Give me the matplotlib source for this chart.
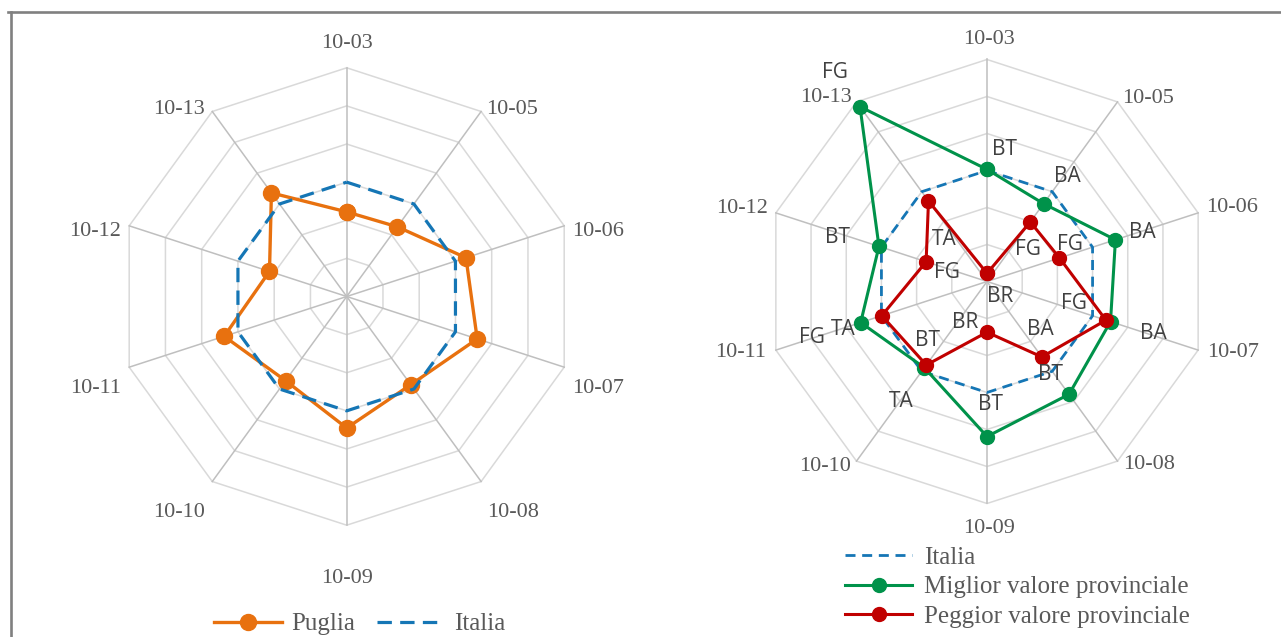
import numpy as np
import matplotlib.pyplot as plt
from matplotlib.lines import Line2D

# Indicators (spokes, clockwise from the top)
indicators = ['10-03', '10-05', '10-06', '10-07', '10-08',
              '10-09', '10-10', '10-11', '10-12', '10-13']

# Left chart: Puglia vs Italia (Italia = 100)
italia = [100, 100, 100, 100, 100, 100, 100, 100, 100, 100]
puglia = [84.4, 85.2, 105.8, 112.0, 97.2, 109.0, 94.6, 107.6, 82.6, 107.2]

# Right chart: best / worst province
migliore = [100.6, 92.0, 113.0, 110.2, 115.4, 123.8, 97.6, 111.8, 101.4, 156.8]
migliore_prov = ['BT', 'BA', 'BA', 'BA', 'BT', 'BT', 'TA', 'TA', 'BT', 'FG']
peggiore = [44.4, 79.8, 81.2, 107.6, 90.4, 67.4, 95.8, 99.8, 74.6, 93.8]
peggiore_prov = ['BR', 'FG', 'FG', 'FG', 'BA', 'BR', 'BT', 'FG', 'FG', 'TA']

r_min, r_max, r_step = 40, 160, 20

# label offsets in pixels (dx, dy with y pointing down)
left_lab_off = [(0, -24), (31, -2), (34, 6), (34, 21), (32, 31),
                (0, 53), (-33, 31), (-34, 21), (-34, 6), (-33, -2)]
right_lab_off = [(2, -20), (31, -3), (34, -5), (35, 2), (32, 3),
                 (2, 25), (-31, 5), (-35, 2), (-34, -4), (-31, -4)]
migliore_off = [(18, -20), (24, -27), (27, -7), (43, 12), (-18, -20),
                (3, -32), (-23, 34), (-17, 7), (-41, -9), (-25, -34)]
peggiore_off = [(13, 23), (-2, 28), (10, -13), (-32, -17), (-1, -27),
                (-22, -10), (1, -25), (-70, 22), (21, 11), (16, 39)]

c_orange = '#E8710F'
c_blue = '#1576B5'
c_green = '#00924A'
c_red = '#C00000'
grid_col = '#D9D9D9'
spoke_col = '#BFBFBF'
txt_col = '#595959'

W, H = 1281, 637
fig = plt.figure(figsize=(W / 100, H / 100), dpi=100)
fig.patch.set_facecolor('white')

n = len(indicators)
theta = np.arange(n) * 2 * np.pi / n


def to_xy(vals):
    r = np.array(vals, dtype=float) - r_min
    x = r * np.sin(theta)
    y = r * np.cos(theta)
    return np.append(x, x[0]), np.append(y, y[0])


def radar_axes(cx, cy, radius, box):
    x0, y0, x1, y1 = box
    ax = fig.add_axes([x0 / W, 1 - y1 / H, (x1 - x0) / W, (y1 - y0) / H])
    s = radius / (r_max - r_min)
    ax.set_xlim((x0 - cx) / s, (x1 - cx) / s)
    ax.set_ylim((cy - y1) / s, (cy - y0) / s)
    ax.axis('off')
    # rings
    for v in range(r_min + r_step, r_max + 1, r_step):
        gx, gy = to_xy([v] * n)
        ax.plot(gx, gy, color=grid_col, lw=1.1, zorder=1, clip_on=False)
    # spokes
    R = r_max - r_min
    for t in theta:
        ax.plot([0, R * np.sin(t)], [0, R * np.cos(t)], color=spoke_col,
                lw=1.1, zorder=1, clip_on=False)
    return ax


def axis_labels(ax, offsets):
    R = r_max - r_min
    for t, lab, (dx, dy) in zip(theta, indicators, offsets):
        ax.annotate(lab, (R * np.sin(t), R * np.cos(t)), xytext=(dx, -dy),
                    textcoords='offset pixels', ha='center', va='center',
                    fontsize=16, color=txt_col, family='Liberation Serif')


# ---------------- left chart ----------------
axl = radar_axes(346.7, 296.5, 228.7, (0, 0, 660, 637))
px, py = to_xy(puglia)
axl.plot(px, py, color=c_orange, lw=2.4, marker='o', ms=11.5,
         solid_joinstyle='round', zorder=3, clip_on=False)
ix, iy = to_xy(italia)
axl.plot(ix, iy, color=c_blue, lw=2.3, ls=(0, (4.5, 2.6)), zorder=4,
         clip_on=False)
axis_labels(axl, left_lab_off)

# ---------------- right chart ----------------
axr = radar_axes(987, 281.5, 222, (660, 0, W, 637))
ix, iy = to_xy(italia)
axr.plot(ix, iy, color=c_blue, lw=2.0, ls=(0, (3.6, 2.4)), zorder=2,
         clip_on=False)
gx, gy = to_xy(migliore)
axr.plot(gx, gy, color=c_green, lw=2.2, marker='o', ms=10,
         solid_joinstyle='round', zorder=3, clip_on=False)
rx, ry = to_xy(peggiore)
axr.plot(rx, ry, color=c_red, lw=2.2, marker='o', ms=10,
         solid_joinstyle='round', zorder=4, clip_on=False)
axis_labels(axr, right_lab_off)

for xs, ys, labs, offs in [(gx, gy, migliore_prov, migliore_off),
                           (rx, ry, peggiore_prov, peggiore_off)]:
    for i in range(n):
        dx, dy = offs[i]
        axr.annotate(labs[i], (xs[i], ys[i]), xytext=(dx, -dy),
                     textcoords='offset pixels', ha='center', va='center',
                     fontsize=15, color='#404040', family='Open Sans',
                     zorder=5)

# ---------------- legends ----------------
h_pug = Line2D([], [], color=c_orange, lw=2.4, marker='o', ms=11.5)
h_ita = Line2D([], [], color=c_blue, lw=2.3, ls=(0, (4.5, 2.6)))
fig.legend([h_pug, h_ita], ['Puglia', 'Italia'], ncol=2, frameon=False,
           loc='center left', bbox_to_anchor=(214 / W, 1 - 624 / H),
           prop={'family': 'Liberation Serif', 'size': 18},
           labelcolor=txt_col, handlelength=2.7, handletextpad=0.4,
           columnspacing=0.85, borderpad=0, borderaxespad=0)

h_ita2 = Line2D([], [], color=c_blue, lw=2.0, ls=(0, (3.6, 2.4)))
h_mig = Line2D([], [], color=c_green, lw=2.2, marker='o', ms=10)
h_peg = Line2D([], [], color=c_red, lw=2.2, marker='o', ms=10)
fig.legend([h_ita2, h_mig, h_peg],
           ['Italia', 'Miglior valore provinciale', 'Peggior valore provinciale'],
           ncol=1, frameon=False, loc='center left',
           bbox_to_anchor=(845 / W, 1 - 587 / H),
           prop={'family': 'Liberation Serif', 'size': 18},
           labelcolor=txt_col, handlelength=2.7, handletextpad=0.45,
           labelspacing=0.28, borderpad=0, borderaxespad=0)

# ---------------- frame ----------------
top_y = 1 - 12.3 / H
fig.add_artist(Line2D([8 / W, 1], [top_y, top_y], color='#808080', lw=1.9))
fig.add_artist(Line2D([10.5 / W, 10.5 / W], [0, top_y], color='#808080', lw=1.9))

fig.savefig('out.png', dpi=100)
